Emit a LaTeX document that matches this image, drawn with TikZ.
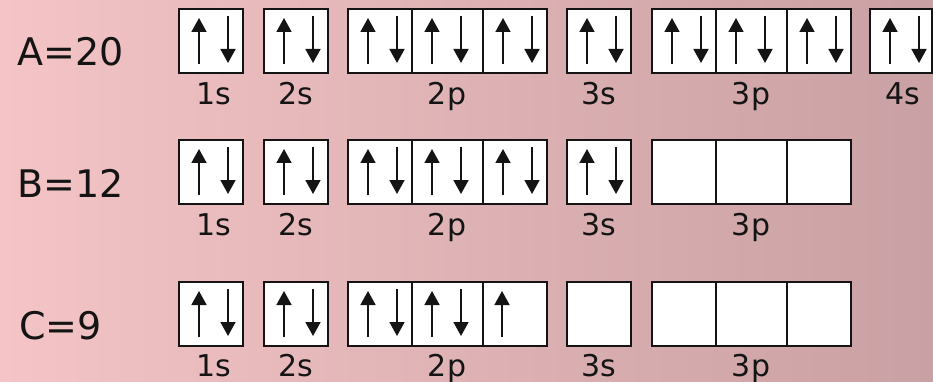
\documentclass[tikz,border=0pt]{standalone}
\usepackage{fontspec}
\setmainfont{DejaVu Sans}
\usetikzlibrary{arrows.meta}

\definecolor{bgleft}{HTML}{F4C4C6}
\definecolor{bgright}{HTML}{C9A0A3}
\definecolor{ink}{HTML}{141414}

% two opposite spins in one box, one spin only
\newcommand{\spinpair}[1]{%
  \draw[spin] ([shift={(21,56)}]#1.north west) -- ([shift={(21,10)}]#1.north west);
  \draw[spin] ([shift={(50,8)}]#1.north west) -- ([shift={(50,55)}]#1.north west);}
\newcommand{\spinup}[1]{%
  \draw[spin] ([shift={(20,56)}]#1.north west) -- ([shift={(20,10)}]#1.north west);}

\begin{document}
\begin{tikzpicture}[
  x=1pt,
  y=-1pt,
  orbital/.style={
    draw=ink,
    fill=white,
    line width=1.8pt,
    minimum width=64,
    minimum height=64,
    inner sep=0pt,
    anchor=north west
  },
  wide/.style={minimum width=71},
  spin/.style={-{Triangle[length=14pt,width=15pt]}, line width=1.7pt, draw=ink},
  sublabel/.style={font=\fontsize{30}{34}\selectfont, text=ink, anchor=base, inner sep=0pt},
  atom/.style={font=\fontsize{38}{42}\selectfont, text=ink, anchor=base west, inner sep=0pt}
]

\useasboundingbox (0,0) rectangle (933,382);
\shade[left color=bgleft, right color=bgright] (0,0) rectangle (933,382);

% Row A
\node[atom] (atomA) at (17,66) {A=20};
\node[orbital] (a1s) at (178,8) {};
\node[orbital] (a2s) at (263,8) {};
\node[orbital] (a2px) at (347,8) {};
\node[orbital, wide] (a2py) at (411,8) {};
\node[orbital] (a2pz) at (482,8) {};
\node[orbital] (a3s) at (566,8) {};
\node[orbital] (a3px) at (651,8) {};
\node[orbital, wide] (a3py) at (715,8) {};
\node[orbital] (a3pz) at (786,8) {};
\node[orbital, minimum width=62] (a4s) at (869,8) {};
\spinpair{a1s} \spinpair{a2s}
\spinpair{a2px} \spinpair{a2py} \spinpair{a2pz}
\spinpair{a3s}
\spinpair{a3px} \spinpair{a3py} \spinpair{a3pz}
\spinpair{a4s}
\node[sublabel] (la1s) at (214,105) {1s};
\node[sublabel] (la2s) at (296,105) {2s};
\node[sublabel] (la2p) at (447,105) {2p};
\node[sublabel] (la3s) at (599,105) {3s};
\node[sublabel] (la3p) at (751,105) {3p};
\node[sublabel] (la4s) at (903,105) {4s};

% Row B
\node[atom] (atomB) at (17,197) {B=12};
\node[orbital] (b1s) at (178,139) {};
\node[orbital] (b2s) at (263,139) {};
\node[orbital] (b2px) at (347,139) {};
\node[orbital, wide] (b2py) at (411,139) {};
\node[orbital] (b2pz) at (482,139) {};
\node[orbital] (b3s) at (566,139) {};
\node[orbital] (b3px) at (651,139) {};
\node[orbital, wide] (b3py) at (715,139) {};
\node[orbital] (b3pz) at (786,139) {};
\spinpair{b1s} \spinpair{b2s}
\spinpair{b2px} \spinpair{b2py} \spinpair{b2pz}
\spinpair{b3s}
\node[sublabel] (lb1s) at (214,235) {1s};
\node[sublabel] (lb2s) at (296,235) {2s};
\node[sublabel] (lb2p) at (447,235) {2p};
\node[sublabel] (lb3s) at (599,235) {3s};
\node[sublabel] (lb3p) at (751,235) {3p};

% Row C
\node[atom] (atomC) at (19,339) {C=9};
\node[orbital] (c1s) at (178,281) {};
\node[orbital] (c2s) at (263,281) {};
\node[orbital] (c2px) at (347,281) {};
\node[orbital, wide] (c2py) at (411,281) {};
\node[orbital] (c2pz) at (482,281) {};
\node[orbital] (c3s) at (566,281) {};
\node[orbital] (c3px) at (651,281) {};
\node[orbital, wide] (c3py) at (715,281) {};
\node[orbital] (c3pz) at (786,281) {};
\spinpair{c1s} \spinpair{c2s}
\spinpair{c2px} \spinpair{c2py} \spinup{c2pz}
\node[sublabel] (lc1s) at (214,376) {1s};
\node[sublabel] (lc2s) at (296,376) {2s};
\node[sublabel] (lc2p) at (447,376) {2p};
\node[sublabel] (lc3s) at (599,376) {3s};
\node[sublabel] (lc3p) at (751,376) {3p};

\end{tikzpicture}
\end{document}
